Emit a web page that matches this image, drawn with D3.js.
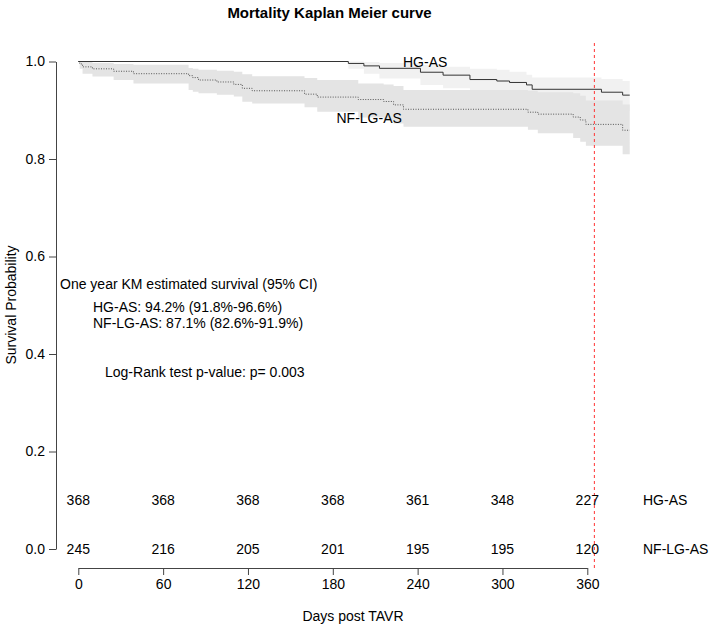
<!DOCTYPE html>
<html>
<head>
<meta charset="utf-8">
<script src="https://cdn.jsdelivr.net/npm/d3@7"></script>
<style>
html,body{margin:0;padding:0;background:#fff;}
svg{display:block;font-family:"Liberation Sans",Arial,sans-serif;}
</style>
</head>
<body>
<svg id="chart" width="712" height="626"></svg>
<script>
// ---- data ----
const hgDays  = [0,191,202,213,242,258,277,296,305,317,321,370,385,390];
const hgSurv  = [1,0.996,0.991,0.986,0.978,0.972,0.963,0.960,0.957,0.952,0.943,0.937,0.931,0.931];
const hgLower = [1,0.985,0.975,0.965,0.952,0.945,0.935,0.930,0.926,0.921,0.912,0.905,0.898,0.898];
const hgUpper = [1,1,0.999,0.997,0.993,0.989,0.985,0.983,0.979,0.973,0.967,0.964,0.960,0.960];

const nfDays  = [0,1,3,10,25,39,78,81,85,98,110,116,123,160,169,198,216,223,230,318,325,350,355,359,385,390];
const nfSurv  = [1,0.995,0.989,0.985,0.980,0.975,0.971,0.967,0.962,0.958,0.953,0.945,0.940,0.933,0.927,0.922,0.918,0.911,0.902,0.896,0.892,0.886,0.880,0.871,0.859,0.859];
const nfLower = [1,0.985,0.975,0.969,0.962,0.955,0.9415,0.938,0.935,0.932,0.928,0.9175,0.914,0.906,0.897,0.885,0.879,0.873,0.866,0.860,0.853,0.843,0.8355,0.827,0.810,0.810];
const nfUpper = [1,1,1,0.997,0.995,0.9935,0.9865,0.985,0.983,0.981,0.979,0.974,0.970,0.966,0.962,0.955,0.953,0.950,0.9415,0.940,0.937,0.935,0.930,0.920,0.912,0.912];

const xTicks = [0,60,120,180,240,300,360];
const yTicks = [0,0.2,0.4,0.6,0.8,1.0];
const riskGroups = ["HG-AS","NF-LG-AS"];
const riskHG = [368,368,368,368,361,348,227];
const riskNF = [245,216,205,201,195,195,120];
const riskValues = [riskHG, riskNF];
const riskLevels = [0.1, 0.0];
const cutoffDay = 365;

const title = "Mortality Kaplan Meier curve";
const xLabel = "Days post TAVR";
const yLabel = "Survival Probability";
const annoLines = ["One year KM estimated survival (95% CI)",
                   "HG-AS: 94.2% (91.8%-96.6%)",
                   "NF-LG-AS: 87.1% (82.6%-91.9%)",
                   "Log-Rank test p-value: p= 0.003"];

// ---- chart ----
const svg = d3.select("#chart");
const x = d3.scaleLinear().domain([0,360]).range([78.3,587.3]);
const y = d3.scaleLinear().domain([0,1]).range([549,61.5]);
const fs = 14;

const hg = hgDays.map((d,i)=>({d, s:hgSurv[i], lo:hgLower[i], hi:hgUpper[i]}));
const nf = nfDays.map((d,i)=>({d, s:nfSurv[i], lo:nfLower[i], hi:nfUpper[i]}));

const area = d3.area().curve(d3.curveStepAfter).x(p=>x(p.d)).y0(p=>y(p.lo)).y1(p=>y(p.hi));
const line = d3.line().curve(d3.curveStepAfter).x(p=>x(p.d)).y(p=>y(p.s));

svg.append("path").datum(hg).attr("d",area).attr("fill","#f1f1f1");
svg.append("path").datum(nf).attr("d",area).attr("fill","#e4e4e4");
svg.append("path").datum(nf).attr("d",line).attr("fill","none")
   .attr("stroke","#555").attr("stroke-width",1).attr("stroke-dasharray","1,1.5");
svg.append("path").datum(hg).attr("d",line).attr("fill","none")
   .attr("stroke","#333").attr("stroke-width",1);

// cutoff line
svg.append("line").attr("x1",x(cutoffDay)).attr("x2",x(cutoffDay))
   .attr("y1",43).attr("y2",568).attr("stroke","#ff3333").attr("stroke-width",1)
   .attr("stroke-dasharray","3,3");

// axes
const yAxis = d3.axisLeft(y).tickValues(yTicks).tickFormat(d3.format(".1f"))
  .tickSize(7).tickSizeOuter(0).tickPadding(4);
const gy = svg.append("g").attr("transform","translate(56,0)").call(yAxis);
const xAxis = d3.axisBottom(x).tickValues(xTicks).tickFormat(d3.format("d"))
  .tickSize(7).tickSizeOuter(0).tickPadding(4);
const gx = svg.append("g").attr("transform","translate(0,568)").call(xAxis);
[gx,gy].forEach(g=>{
  g.selectAll("path,line").attr("stroke","#444");
  g.selectAll("text").attr("font-size",fs).attr("fill","#000")
   .attr("font-family","'Liberation Sans',Arial,sans-serif");
});

// title & labels
svg.append("text").attr("x",329.5).attr("y",18).attr("text-anchor","middle")
  .attr("font-size",15).attr("font-weight","bold").text(title);
svg.append("text").attr("x",353).attr("y",621).attr("text-anchor","middle")
  .attr("font-size",fs).text(xLabel);
svg.append("text").attr("transform","translate(16,305) rotate(-90)")
  .attr("text-anchor","middle").attr("font-size",fs).text(yLabel);

// curve labels
svg.append("text").attr("x",403).attr("y",67).attr("font-size",fs).text("HG-AS");
svg.append("text").attr("x",336.5).attr("y",122.5).attr("font-size",fs).text("NF-LG-AS");

// annotations
const annoPos = [[60,289],[93,311.5],[93,328],[105,377]];
annoLines.forEach((t,i)=>{
  svg.append("text").attr("x",annoPos[i][0]).attr("y",annoPos[i][1])
    .attr("font-size",fs).text(t);
});

// risk table
riskValues.forEach((vals,gi)=>{
  const yy = y(riskLevels[gi]) + 5;
  vals.forEach((v,i)=>{
    svg.append("text").attr("x",x(xTicks[i])).attr("y",yy)
      .attr("text-anchor","middle").attr("font-size",fs).text(v);
  });
  svg.append("text").attr("x",643).attr("y",yy).attr("font-size",fs).text(riskGroups[gi]);
});
</script>
</body>
</html>
